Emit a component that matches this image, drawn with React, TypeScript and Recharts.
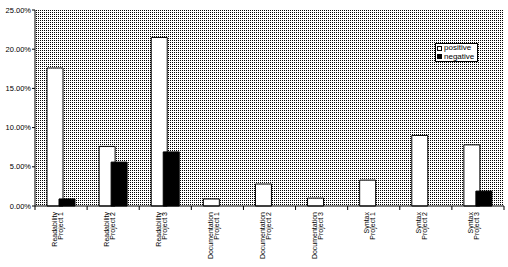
import { BarChart, Bar, XAxis, YAxis, CartesianGrid, Legend } from "recharts";

const areas = [
  "Readability",
  "Readability",
  "Readability",
  "Documentation",
  "Documentation",
  "Documentation",
  "Syntax",
  "Syntax",
  "Syntax",
];
const projects = [
  "Project 1",
  "Project 2",
  "Project 3",
  "Project 1",
  "Project 2",
  "Project 3",
  "Project 1",
  "Project 2",
  "Project 3",
];
const positive = [17.6, 7.6, 21.5, 0.9, 2.8, 1.0, 3.3, 9.0, 7.8];
const negative = [0.9, 5.6, 6.9, 0, 0, 0, 0, 0, 1.9];
const yTicks = [0, 5, 10, 15, 20, 25];
const seriesOrder = ["positive", "negative"];

const data = areas.map((a, i) => ({
  name: `${a}\n${projects[i]}`,
  positive: positive[i],
  negative: negative[i],
}));

const FONT = "'Liberation Sans', Arial, sans-serif";
const BAND = 469 / data.length;

function CategoryTick(props: any) {
  const { x, y, payload, index } = props;
  const [top, bottom] = String(payload.value).split("\n");
  const left = x - BAND / 2;
  return (
    <g>
      <line x1={left} x2={left} y1={y} y2={y + 4} stroke="#000" />
      {index === data.length - 1 && (
        <line x1={x + BAND / 2} x2={x + BAND / 2} y1={y} y2={y + 4} stroke="#000" />
      )}
      <text
        transform={`translate(${x - 3},${y + 6}) rotate(-90)`}
        textAnchor="end"
        fontSize={7}
        fontFamily={FONT}
        fill="#000"
      >
        <tspan x={0} y={-1.5}>
          {top}
        </tspan>
        <tspan x={0} y={4.5}>
          {bottom}
        </tspan>
      </text>
    </g>
  );
}

function LegendBox(props: any) {
  const items = [...(props.payload || [])].sort(
    (a: any, b: any) => seriesOrder.indexOf(a.value) - seriesOrder.indexOf(b.value)
  );
  return (
    <div
      style={{
        display: "inline-block",
        background: "#fff",
        border: "1px solid #000",
        color: "#000",
        fontFamily: FONT,
        fontSize: 8,
        lineHeight: "8.5px",
        padding: "0px 3px 0px 1px",
        whiteSpace: "nowrap",
      }}
    >
      {items.map((it: any) => (
        <div key={it.value} style={{ display: "flex", alignItems: "center" }}>
          <span
            style={{
              display: "inline-block",
              flexShrink: 0,
              width: 3,
              height: 3,
              border: "1px solid #000",
              background: it.value === "negative" ? "#000" : "#fff",
              marginRight: 2,
            }}
          />
          <span>{it.value}</span>
        </div>
      ))}
    </div>
  );
}

export default function App() {
  return (
    <div style={{ position: "absolute", left: 0, top: 0, width: 508, height: 267, background: "#fff" }}>
      <svg width={0} height={0} style={{ position: "absolute" }}>
        <defs>
          <pattern id="dots" width={2} height={2} patternUnits="userSpaceOnUse">
            <rect width={2} height={2} fill="#fff" shapeRendering="crispEdges" />
            <rect width={1} height={1} fill="#000" shapeRendering="crispEdges" />
          </pattern>
        </defs>
      </svg>
      <BarChart
        width={508}
        height={267}
        data={data}
        margin={{ top: 10, right: 4, left: 0, bottom: 0 }}
        barSize={16}
        barGap={-4}
      >
        <CartesianGrid horizontal={false} vertical={false} fill="url(#dots)" fillOpacity={1} />
        <XAxis
          dataKey="name"
          interval={0}
          height={61}
          tickSize={0}
          tickMargin={0}
          tickLine={false}
          axisLine={{ stroke: "#000" }}
          tick={<CategoryTick />}
        />
        <YAxis
          width={35}
          domain={[0, 25]}
          ticks={yTicks}
          tickSize={3}
          tickMargin={1}
          axisLine={{ stroke: "#000" }}
          tickLine={{ stroke: "#000" }}
          tick={{ fontSize: 7.5, fill: "#000", fontFamily: FONT }}
          tickFormatter={(v: number) => `${v.toFixed(2)}%`}
        />
        <Legend
          layout="vertical"
          align="center"
          verticalAlign="middle"
          wrapperStyle={{ left: 435, top: 43, width: "auto" }}
          content={<LegendBox />}
        />
        <Bar dataKey="positive" name="positive" fill="#fff" stroke="#000" strokeWidth={1} isAnimationActive={false} />
        <Bar dataKey="negative" name="negative" fill="#000" stroke="#000" strokeWidth={1} isAnimationActive={false} />
      </BarChart>
    </div>
  );
}
